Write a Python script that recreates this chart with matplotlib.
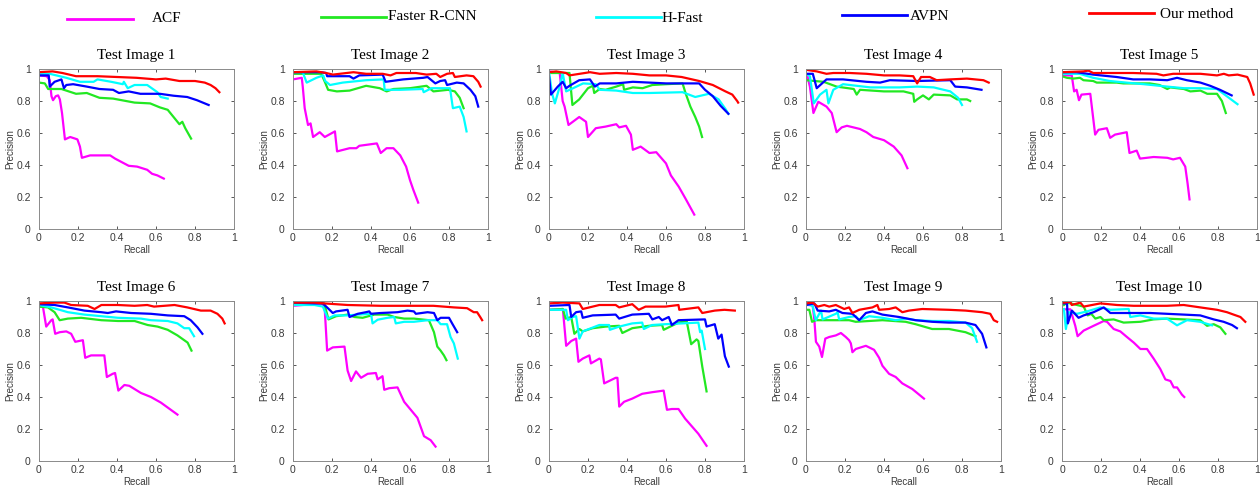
import numpy as np
import matplotlib.pyplot as plt

# precision-recall curves, (recall list, precision list) per method and test image
acf_1 = ([0, 0.04, 0.055, 0.064, 0.072, 0.086, 0.098, 0.107, 0.118, 0.133, 0.16, 0.185, 0.197, 0.21, 0.22, 0.262, 0.365, 0.39, 0.46, 0.503, 0.555, 0.58, 0.607, 0.64],
         [0.96, 0.955, 0.93, 0.83, 0.805, 0.83, 0.835, 0.81, 0.725, 0.56, 0.575, 0.565, 0.56, 0.515, 0.445, 0.46, 0.46, 0.44, 0.395, 0.39, 0.37, 0.345, 0.335, 0.315])
frcnn_1 = ([0, 0.03, 0.047, 0.115, 0.19, 0.245, 0.31, 0.38, 0.49, 0.57, 0.62, 0.66, 0.69, 0.72, 0.735, 0.75, 0.78],
           [0.915, 0.91, 0.875, 0.875, 0.845, 0.85, 0.82, 0.815, 0.79, 0.785, 0.76, 0.745, 0.70, 0.655, 0.67, 0.63, 0.565])
hfast_1 = ([0, 0.055, 0.14, 0.21, 0.28, 0.3, 0.37, 0.43, 0.435, 0.455, 0.49, 0.555, 0.607, 0.624, 0.66],
           [0.97, 0.97, 0.945, 0.92, 0.92, 0.935, 0.92, 0.905, 0.92, 0.88, 0.9, 0.9, 0.855, 0.825, 0.815])
avpn_1 = ([0, 0.05, 0.055, 0.08, 0.115, 0.128, 0.14, 0.175, 0.245, 0.31, 0.38, 0.41, 0.46, 0.52, 0.62, 0.69, 0.76, 0.81, 0.87],
          [0.96, 0.96, 0.89, 0.92, 0.935, 0.88, 0.90, 0.905, 0.89, 0.875, 0.87, 0.85, 0.86, 0.845, 0.845, 0.833, 0.825, 0.805, 0.775])
ours_1 = ([0, 0.07, 0.12, 0.19, 0.3, 0.4, 0.5, 0.6, 0.65, 0.72, 0.8, 0.85, 0.88, 0.905, 0.925],
          [0.98, 0.985, 0.975, 0.955, 0.955, 0.95, 0.945, 0.935, 0.94, 0.925, 0.925, 0.915, 0.9, 0.88, 0.855])

acf_2 = ([0, 0.045, 0.05, 0.06, 0.077, 0.09, 0.103, 0.137, 0.163, 0.215, 0.226, 0.29, 0.325, 0.34, 0.43, 0.45, 0.48, 0.515, 0.55, 0.58, 0.6, 0.617, 0.642],
         [0.935, 0.945, 0.89, 0.755, 0.65, 0.66, 0.575, 0.605, 0.575, 0.61, 0.485, 0.505, 0.505, 0.52, 0.535, 0.475, 0.505, 0.505, 0.46, 0.39, 0.305, 0.245, 0.165])
frcnn_2 = ([0, 0.145, 0.165, 0.18, 0.225, 0.29, 0.375, 0.445, 0.48, 0.515, 0.6, 0.685, 0.72, 0.795, 0.83, 0.855, 0.875],
           [0.97, 0.97, 0.915, 0.87, 0.86, 0.865, 0.895, 0.88, 0.86, 0.875, 0.88, 0.895, 0.86, 0.87, 0.86, 0.82, 0.755])
hfast_2 = ([0, 0.05, 0.07, 0.12, 0.155, 0.165, 0.19, 0.255, 0.375, 0.465, 0.47, 0.55, 0.665, 0.67, 0.71, 0.805, 0.82, 0.855, 0.875, 0.89],
           [0.98, 0.98, 0.915, 0.945, 0.96, 0.925, 0.90, 0.915, 0.93, 0.935, 0.87, 0.87, 0.875, 0.855, 0.88, 0.88, 0.755, 0.765, 0.70, 0.61])
avpn_2 = ([0, 0.14, 0.17, 0.175, 0.29, 0.31, 0.34, 0.46, 0.475, 0.565, 0.668, 0.69, 0.73, 0.755, 0.78, 0.79, 0.84, 0.875, 0.91, 0.935, 0.95],
          [0.98, 0.98, 0.975, 0.955, 0.955, 0.94, 0.96, 0.965, 0.92, 0.935, 0.945, 0.95, 0.91, 0.925, 0.93, 0.90, 0.915, 0.91, 0.87, 0.83, 0.765])
ours_2 = ([0, 0.12, 0.17, 0.205, 0.31, 0.375, 0.46, 0.5, 0.53, 0.63, 0.685, 0.735, 0.755, 0.79, 0.82, 0.83, 0.89, 0.925, 0.95, 0.962],
          [0.98, 0.985, 0.975, 0.965, 0.98, 0.97, 0.97, 0.96, 0.975, 0.975, 0.965, 0.97, 0.95, 0.97, 0.975, 0.95, 0.96, 0.955, 0.92, 0.89])

acf_3 = ([0, 0.055, 0.07, 0.08, 0.10, 0.155, 0.19, 0.2, 0.24, 0.29, 0.345, 0.36, 0.395, 0.42, 0.43, 0.47, 0.515, 0.55, 0.6, 0.625, 0.665, 0.70, 0.745],
         [0.985, 0.975, 0.80, 0.765, 0.65, 0.70, 0.67, 0.575, 0.63, 0.64, 0.655, 0.635, 0.645, 0.59, 0.495, 0.515, 0.475, 0.48, 0.41, 0.335, 0.265, 0.19, 0.09])
frcnn_3 = ([0, 0.088, 0.105, 0.12, 0.155, 0.2, 0.225, 0.232, 0.26, 0.29, 0.345, 0.38, 0.385, 0.43, 0.48, 0.53, 0.6, 0.685, 0.70, 0.725, 0.75, 0.77, 0.785],
           [0.975, 0.975, 0.975, 0.775, 0.81, 0.88, 0.895, 0.85, 0.875, 0.87, 0.89, 0.905, 0.87, 0.885, 0.88, 0.90, 0.905, 0.91, 0.85, 0.765, 0.70, 0.64, 0.575])
hfast_3 = ([0, 0.015, 0.03, 0.055, 0.07, 0.088, 0.115, 0.175, 0.24, 0.26, 0.345, 0.43, 0.515, 0.685, 0.75, 0.82, 0.87, 0.905, 0.92],
           [0.985, 0.85, 0.785, 0.89, 0.975, 0.86, 0.875, 0.91, 0.905, 0.87, 0.865, 0.85, 0.85, 0.855, 0.825, 0.845, 0.81, 0.75, 0.72])
avpn_3 = ([0, 0.01, 0.045, 0.07, 0.088, 0.105, 0.155, 0.21, 0.235, 0.26, 0.345, 0.43, 0.515, 0.6, 0.77, 0.80, 0.84, 0.88, 0.92],
          [0.955, 0.84, 0.89, 0.92, 0.88, 0.895, 0.93, 0.935, 0.89, 0.91, 0.91, 0.92, 0.915, 0.91, 0.91, 0.87, 0.83, 0.77, 0.72])
ours_3 = ([0, 0.037, 0.088, 0.105, 0.21, 0.26, 0.345, 0.43, 0.515, 0.6, 0.68, 0.77, 0.84, 0.905, 0.94, 0.965, 0.97],
          [0.98, 0.985, 0.975, 0.96, 0.98, 0.97, 0.975, 0.97, 0.96, 0.96, 0.95, 0.925, 0.90, 0.86, 0.84, 0.80, 0.79])

acf_4 = ([0.007, 0.02, 0.038, 0.063, 0.105, 0.132, 0.157, 0.183, 0.21, 0.277, 0.31, 0.345, 0.40, 0.45, 0.49, 0.52],
         [0.955, 0.89, 0.725, 0.795, 0.765, 0.725, 0.605, 0.635, 0.645, 0.625, 0.605, 0.575, 0.555, 0.515, 0.46, 0.38])
frcnn_4 = ([0, 0.09, 0.157, 0.245, 0.26, 0.277, 0.4, 0.5, 0.55, 0.555, 0.57, 0.6, 0.63, 0.655, 0.74, 0.775, 0.825, 0.842],
           [0.93, 0.92, 0.89, 0.875, 0.84, 0.87, 0.86, 0.86, 0.845, 0.795, 0.81, 0.835, 0.81, 0.84, 0.835, 0.81, 0.81, 0.80])
hfast_4 = ([0, 0.02, 0.04, 0.072, 0.105, 0.115, 0.14, 0.19, 0.26, 0.33, 0.48, 0.57, 0.655, 0.74, 0.78, 0.80],
           [0.97, 0.955, 0.785, 0.84, 0.87, 0.785, 0.87, 0.905, 0.895, 0.885, 0.885, 0.89, 0.885, 0.86, 0.82, 0.775])
avpn_4 = ([0, 0.035, 0.055, 0.105, 0.19, 0.31, 0.38, 0.43, 0.57, 0.74, 0.765, 0.825, 0.9],
          [0.97, 0.97, 0.88, 0.935, 0.935, 0.92, 0.915, 0.93, 0.925, 0.93, 0.89, 0.885, 0.87])
ours_4 = ([0, 0.055, 0.105, 0.14, 0.225, 0.31, 0.4, 0.48, 0.55, 0.57, 0.59, 0.635, 0.67, 0.74, 0.825, 0.91, 0.937],
          [0.995, 0.985, 0.97, 0.975, 0.975, 0.97, 0.96, 0.96, 0.955, 0.91, 0.95, 0.95, 0.93, 0.935, 0.94, 0.93, 0.915])

acf_5 = ([0, 0.05, 0.062, 0.075, 0.087, 0.1, 0.145, 0.17, 0.187, 0.23, 0.247, 0.272, 0.332, 0.346, 0.383, 0.4, 0.47, 0.54, 0.57, 0.605, 0.632, 0.644, 0.654],
         [0.96, 0.96, 0.86, 0.87, 0.805, 0.84, 0.845, 0.59, 0.62, 0.63, 0.57, 0.59, 0.605, 0.475, 0.49, 0.44, 0.45, 0.445, 0.435, 0.445, 0.39, 0.285, 0.185])
frcnn_5 = ([0, 0.025, 0.058, 0.092, 0.11, 0.16, 0.178, 0.28, 0.315, 0.45, 0.5, 0.54, 0.555, 0.625, 0.658, 0.71, 0.745, 0.795, 0.82, 0.84],
           [0.955, 0.945, 0.94, 0.945, 0.93, 0.925, 0.915, 0.915, 0.91, 0.91, 0.90, 0.875, 0.885, 0.875, 0.86, 0.865, 0.845, 0.845, 0.80, 0.725])
hfast_5 = ([0, 0.09, 0.16, 0.245, 0.33, 0.42, 0.54, 0.625, 0.71, 0.795, 0.845, 0.9],
           [0.97, 0.97, 0.945, 0.925, 0.915, 0.905, 0.89, 0.88, 0.88, 0.875, 0.83, 0.78])
avpn_5 = ([0, 0.075, 0.16, 0.28, 0.365, 0.45, 0.54, 0.59, 0.64, 0.71, 0.76, 0.81, 0.87],
          [0.98, 0.98, 0.965, 0.95, 0.935, 0.935, 0.93, 0.945, 0.93, 0.915, 0.895, 0.87, 0.835])
ours_5 = ([0, 0.11, 0.135, 0.16, 0.28, 0.365, 0.485, 0.52, 0.57, 0.71, 0.795, 0.83, 0.855, 0.9, 0.95, 0.965, 0.983],
          [0.98, 0.985, 0.99, 0.975, 0.975, 0.975, 0.97, 0.96, 0.97, 0.97, 0.96, 0.97, 0.96, 0.965, 0.95, 0.91, 0.84])

acf_6 = ([0, 0.02, 0.037, 0.063, 0.07, 0.083, 0.106, 0.14, 0.165, 0.186, 0.225, 0.237, 0.267, 0.335, 0.348, 0.378, 0.39, 0.407, 0.438, 0.463, 0.523, 0.574, 0.625, 0.676, 0.71],
         [0.965, 0.965, 0.84, 0.88, 0.885, 0.795, 0.805, 0.81, 0.795, 0.745, 0.755, 0.645, 0.66, 0.66, 0.525, 0.545, 0.55, 0.44, 0.475, 0.47, 0.425, 0.40, 0.365, 0.32, 0.29])
frcnn_6 = ([0, 0.046, 0.08, 0.106, 0.148, 0.216, 0.32, 0.405, 0.49, 0.557, 0.608, 0.66, 0.71, 0.762, 0.782],
           [0.965, 0.96, 0.93, 0.88, 0.89, 0.895, 0.88, 0.875, 0.875, 0.85, 0.84, 0.82, 0.785, 0.74, 0.69])
hfast_6 = ([0, 0.063, 0.148, 0.233, 0.32, 0.405, 0.523, 0.574, 0.66, 0.71, 0.745, 0.77, 0.795],
           [0.975, 0.96, 0.93, 0.915, 0.905, 0.895, 0.89, 0.88, 0.875, 0.86, 0.83, 0.83, 0.78])
avpn_6 = ([0, 0.08, 0.148, 0.233, 0.32, 0.353, 0.395, 0.472, 0.574, 0.66, 0.745, 0.778, 0.813, 0.838],
          [0.98, 0.975, 0.96, 0.94, 0.93, 0.925, 0.935, 0.925, 0.92, 0.91, 0.905, 0.88, 0.835, 0.795])
ours_6 = ([0, 0.08, 0.13, 0.165, 0.25, 0.285, 0.32, 0.405, 0.49, 0.555, 0.59, 0.695, 0.76, 0.83, 0.88, 0.915, 0.94, 0.952],
          [0.985, 0.99, 0.99, 0.975, 0.97, 0.95, 0.975, 0.975, 0.97, 0.975, 0.965, 0.975, 0.96, 0.94, 0.94, 0.92, 0.89, 0.86])

acf_7 = ([0, 0.145, 0.162, 0.175, 0.204, 0.264, 0.28, 0.298, 0.323, 0.349, 0.383, 0.425, 0.434, 0.459, 0.468, 0.493, 0.536, 0.57, 0.604, 0.638, 0.672, 0.706, 0.731],
         [0.97, 0.985, 0.965, 0.69, 0.71, 0.715, 0.565, 0.50, 0.56, 0.52, 0.545, 0.55, 0.51, 0.53, 0.445, 0.455, 0.46, 0.37, 0.32, 0.27, 0.155, 0.13, 0.09])
frcnn_7 = ([0, 0.11, 0.16, 0.182, 0.221, 0.28, 0.315, 0.357, 0.417, 0.485, 0.519, 0.57, 0.62, 0.697, 0.723, 0.74, 0.757, 0.774, 0.787],
           [0.985, 0.99, 0.985, 0.885, 0.905, 0.915, 0.90, 0.895, 0.915, 0.915, 0.90, 0.89, 0.89, 0.88, 0.805, 0.715, 0.69, 0.66, 0.63])
hfast_7 = ([0, 0.11, 0.153, 0.179, 0.213, 0.28, 0.332, 0.4, 0.408, 0.434, 0.485, 0.519, 0.527, 0.57, 0.62, 0.69, 0.74, 0.757, 0.79, 0.808, 0.825, 0.845],
           [0.975, 0.975, 0.965, 0.89, 0.91, 0.91, 0.915, 0.92, 0.86, 0.883, 0.895, 0.90, 0.86, 0.87, 0.87, 0.88, 0.88, 0.855, 0.855, 0.775, 0.735, 0.64])
avpn_7 = ([0, 0.11, 0.153, 0.179, 0.204, 0.221, 0.28, 0.29, 0.332, 0.374, 0.391, 0.4, 0.45, 0.536, 0.587, 0.62, 0.63, 0.69, 0.723, 0.74, 0.757, 0.8, 0.816, 0.842],
          [0.99, 0.985, 0.985, 0.955, 0.925, 0.935, 0.945, 0.90, 0.92, 0.93, 0.935, 0.92, 0.925, 0.93, 0.94, 0.935, 0.92, 0.93, 0.925, 0.88, 0.895, 0.895, 0.86, 0.805])
ours_7 = ([0, 0.11, 0.16, 0.28, 0.45, 0.62, 0.72, 0.825, 0.893, 0.927, 0.944, 0.96, 0.97],
          [0.99, 0.99, 0.985, 0.975, 0.97, 0.97, 0.97, 0.96, 0.955, 0.93, 0.93, 0.90, 0.88])

acf_8 = ([0, 0.071, 0.088, 0.114, 0.139, 0.151, 0.173, 0.207, 0.215, 0.258, 0.266, 0.283, 0.342, 0.351, 0.36, 0.385, 0.427, 0.478, 0.529, 0.588, 0.605, 0.63, 0.664, 0.698, 0.766, 0.808],
         [0.945, 0.95, 0.72, 0.75, 0.765, 0.62, 0.64, 0.66, 0.61, 0.64, 0.635, 0.485, 0.52, 0.52, 0.34, 0.37, 0.39, 0.42, 0.43, 0.44, 0.32, 0.325, 0.325, 0.265, 0.17, 0.095])
frcnn_8 = ([0, 0.071, 0.085, 0.114, 0.13, 0.156, 0.173, 0.224, 0.29, 0.36, 0.376, 0.427, 0.512, 0.58, 0.588, 0.664, 0.706, 0.729, 0.757, 0.766, 0.786, 0.808],
           [0.945, 0.95, 0.89, 0.90, 0.795, 0.825, 0.81, 0.83, 0.84, 0.845, 0.80, 0.83, 0.845, 0.85, 0.82, 0.865, 0.875, 0.73, 0.76, 0.75, 0.59, 0.435])
hfast_8 = ([0, 0.088, 0.097, 0.122, 0.139, 0.156, 0.173, 0.258, 0.308, 0.312, 0.36, 0.427, 0.478, 0.486, 0.529, 0.597, 0.766, 0.775, 0.783, 0.8],
           [0.945, 0.945, 0.88, 0.90, 0.905, 0.765, 0.81, 0.85, 0.85, 0.82, 0.84, 0.86, 0.865, 0.825, 0.85, 0.855, 0.865, 0.805, 0.815, 0.70])
avpn_8 = ([0, 0.105, 0.114, 0.139, 0.165, 0.173, 0.224, 0.342, 0.36, 0.427, 0.512, 0.53, 0.563, 0.58, 0.614, 0.63, 0.664, 0.8, 0.808, 0.85, 0.868, 0.885, 0.902, 0.922],
          [0.97, 0.975, 0.90, 0.93, 0.935, 0.895, 0.91, 0.915, 0.89, 0.915, 0.92, 0.885, 0.90, 0.88, 0.90, 0.85, 0.88, 0.885, 0.84, 0.855, 0.765, 0.79, 0.655, 0.59])
ours_8 = ([0, 0.07, 0.156, 0.173, 0.258, 0.342, 0.36, 0.427, 0.46, 0.495, 0.597, 0.664, 0.668, 0.766, 0.786, 0.85, 0.9, 0.953],
          [0.985, 0.99, 0.985, 0.95, 0.975, 0.975, 0.96, 0.98, 0.945, 0.965, 0.965, 0.975, 0.945, 0.96, 0.925, 0.94, 0.945, 0.94])

acf_9 = ([0, 0.034, 0.043, 0.051, 0.068, 0.082, 0.099, 0.119, 0.153, 0.179, 0.204, 0.221, 0.23, 0.238, 0.255, 0.307, 0.349, 0.375, 0.392, 0.426, 0.46, 0.494, 0.545, 0.605],
         [0.975, 0.975, 0.88, 0.745, 0.715, 0.65, 0.765, 0.775, 0.785, 0.80, 0.775, 0.755, 0.735, 0.68, 0.70, 0.72, 0.695, 0.645, 0.595, 0.545, 0.525, 0.485, 0.45, 0.39])
frcnn_9 = ([0, 0.017, 0.031, 0.051, 0.136, 0.221, 0.255, 0.392, 0.511, 0.562, 0.647, 0.733, 0.818, 0.869],
           [0.945, 0.945, 0.87, 0.88, 0.88, 0.88, 0.87, 0.88, 0.87, 0.855, 0.825, 0.825, 0.805, 0.78])
hfast_9 = ([0, 0.034, 0.05, 0.077, 0.085, 0.153, 0.162, 0.17, 0.221, 0.255, 0.273, 0.324, 0.392, 0.46, 0.511, 0.562, 0.647, 0.733, 0.818, 0.852, 0.877],
           [0.98, 0.97, 0.88, 0.94, 0.885, 0.92, 0.93, 0.885, 0.90, 0.905, 0.88, 0.905, 0.895, 0.88, 0.89, 0.88, 0.875, 0.875, 0.865, 0.83, 0.745])
avpn_9 = ([0, 0.043, 0.06, 0.119, 0.153, 0.187, 0.238, 0.273, 0.307, 0.341, 0.392, 0.477, 0.562, 0.647, 0.733, 0.818, 0.869, 0.903, 0.925],
          [0.975, 0.985, 0.94, 0.935, 0.945, 0.925, 0.92, 0.88, 0.925, 0.935, 0.915, 0.90, 0.88, 0.87, 0.865, 0.865, 0.85, 0.795, 0.71])
ours_9 = ([0, 0.034, 0.05, 0.06, 0.094, 0.119, 0.153, 0.196, 0.221, 0.238, 0.273, 0.341, 0.366, 0.375, 0.426, 0.46, 0.494, 0.528, 0.596, 0.733, 0.818, 0.903, 0.945, 0.963, 0.98],
          [0.985, 0.99, 0.975, 0.965, 0.975, 0.965, 0.975, 0.95, 0.96, 0.925, 0.945, 0.96, 0.975, 0.945, 0.95, 0.96, 0.93, 0.94, 0.95, 0.945, 0.94, 0.93, 0.92, 0.88, 0.87])

acf_10 = ([0.01, 0.043, 0.068, 0.08, 0.111, 0.162, 0.197, 0.214, 0.231, 0.265, 0.299, 0.333, 0.368, 0.402, 0.436, 0.47, 0.504, 0.53, 0.556, 0.573, 0.59, 0.615, 0.627],
          [0.948, 0.948, 0.845, 0.78, 0.815, 0.845, 0.865, 0.875, 0.87, 0.825, 0.81, 0.775, 0.74, 0.70, 0.70, 0.64, 0.575, 0.51, 0.50, 0.46, 0.46, 0.415, 0.40])
frcnn_10 = ([0.01, 0.026, 0.043, 0.077, 0.111, 0.132, 0.15, 0.171, 0.197, 0.214, 0.265, 0.316, 0.402, 0.47, 0.538, 0.624, 0.709, 0.744, 0.778, 0.812, 0.838],
            [0.975, 0.99, 0.985, 0.975, 0.965, 0.91, 0.92, 0.89, 0.90, 0.88, 0.885, 0.865, 0.87, 0.885, 0.89, 0.885, 0.88, 0.845, 0.855, 0.835, 0.795])
hfast_10 = ([0.01, 0.02, 0.034, 0.077, 0.128, 0.197, 0.248, 0.342, 0.35, 0.402, 0.47, 0.538, 0.59, 0.641, 0.709, 0.769],
            [0.95, 0.825, 0.93, 0.92, 0.935, 0.96, 0.945, 0.95, 0.90, 0.91, 0.89, 0.89, 0.848, 0.88, 0.87, 0.848])
avpn_10 = ([0.01, 0.026, 0.03, 0.051, 0.085, 0.111, 0.162, 0.214, 0.248, 0.333, 0.453, 0.538, 0.624, 0.709, 0.778, 0.829, 0.872, 0.897],
           [0.985, 0.985, 0.86, 0.94, 0.895, 0.91, 0.93, 0.96, 0.925, 0.925, 0.925, 0.92, 0.915, 0.91, 0.885, 0.87, 0.85, 0.83])
ours_10 = ([0.01, 0.043, 0.05, 0.094, 0.111, 0.197, 0.282, 0.368, 0.453, 0.538, 0.624, 0.709, 0.795, 0.846, 0.88, 0.915, 0.94],
           [0.99, 0.995, 0.975, 0.99, 0.965, 0.985, 0.975, 0.97, 0.97, 0.97, 0.975, 0.96, 0.945, 0.93, 0.915, 0.90, 0.87])

method_names = ['ACF', 'Faster R-CNN', 'H-Fast', 'AVPN', 'Our method']
method_colors = ['#ff00ff', '#22e822', '#00ffff', '#0000ff', '#ff0000']
tick_vals = [0, 0.2, 0.4, 0.6, 0.8, 1]
tick_labels = ['0', '0.2', '0.4', '0.6', '0.8', '1']

curves = [
    [acf_1, frcnn_1, hfast_1, avpn_1, ours_1],
    [acf_2, frcnn_2, hfast_2, avpn_2, ours_2],
    [acf_3, frcnn_3, hfast_3, avpn_3, ours_3],
    [acf_4, frcnn_4, hfast_4, avpn_4, ours_4],
    [acf_5, frcnn_5, hfast_5, avpn_5, ours_5],
    [acf_6, frcnn_6, hfast_6, avpn_6, ours_6],
    [acf_7, frcnn_7, hfast_7, avpn_7, ours_7],
    [acf_8, frcnn_8, hfast_8, avpn_8, ours_8],
    [acf_9, frcnn_9, hfast_9, avpn_9, ours_9],
    [acf_10, frcnn_10, hfast_10, avpn_10, ours_10],
]

W, H = 1260, 487
fig = plt.figure(figsize=(W / 100, H / 100), dpi=100)

# axes boxes in pixels: left edges per column, top edge per row
col_left = [39, 293, 549, 806, 1062]
row_top = [69, 301]
box_w, box_h = 195, 160

tick_col = '#3a3a3a'
spine_col = '#8a8a8a'

for i, lines in enumerate(curves):
    r, c = divmod(i, 5)
    ax = fig.add_axes([col_left[c] / W, 1 - (row_top[r] + box_h) / H, box_w / W, box_h / H])
    for (rec, prec), col in zip(lines, method_colors):
        ax.plot(rec, prec, color=col, lw=1.6, solid_joinstyle='round')
    ax.set_xlim(0, 1)
    ax.set_ylim(0, 1)
    ax.set_xticks(tick_vals)
    ax.set_yticks(tick_vals)
    ax.set_xticklabels(tick_labels)
    ax.set_yticklabels(tick_labels)
    ax.tick_params(direction='in', length=2.5, width=0.6, labelsize=7.5, colors=tick_col,
                   top=True, right=True)
    ax.tick_params(axis='x', pad=3)
    ax.tick_params(axis='y', pad=6)
    for s in ax.spines.values():
        s.set_color(spine_col)
        s.set_linewidth(0.7)
    for lab in ax.get_xticklabels() + ax.get_yticklabels():
        lab.set_family('Liberation Sans')
    ax.set_xlabel('Recall', fontsize=7, family='Liberation Sans', color=tick_col, labelpad=1)
    ax.set_ylabel('Precision', fontsize=7, family='Liberation Sans', color=tick_col, labelpad=1)
    ax.set_title('Test Image %d' % (i + 1), fontsize=11, family='Liberation Serif', pad=7)

# legend drawn across the top as separate entries
leg_line_x = [(67, 133), (321, 386), (596, 661), (842, 907), (1089, 1154)]
leg_line_y = [19, 17, 17, 15, 13]
leg_text_x = [152, 388, 662, 910, 1160]
leg_text_y = [18, 16, 19, 17, 14]
for name, col, (x0, x1), ly, tx, ty in zip(method_names, method_colors, leg_line_x,
                                            leg_line_y, leg_text_x, leg_text_y):
    fig.add_artist(plt.Line2D([x0 / W, x1 / W], [1 - ly / H, 1 - ly / H], color=col, lw=2))
    fig.text(tx / W, 1 - ty / H, name, fontsize=11, family='Liberation Serif',
             ha='left', va='center')

fig.savefig('out.png', dpi=100, facecolor='white')
